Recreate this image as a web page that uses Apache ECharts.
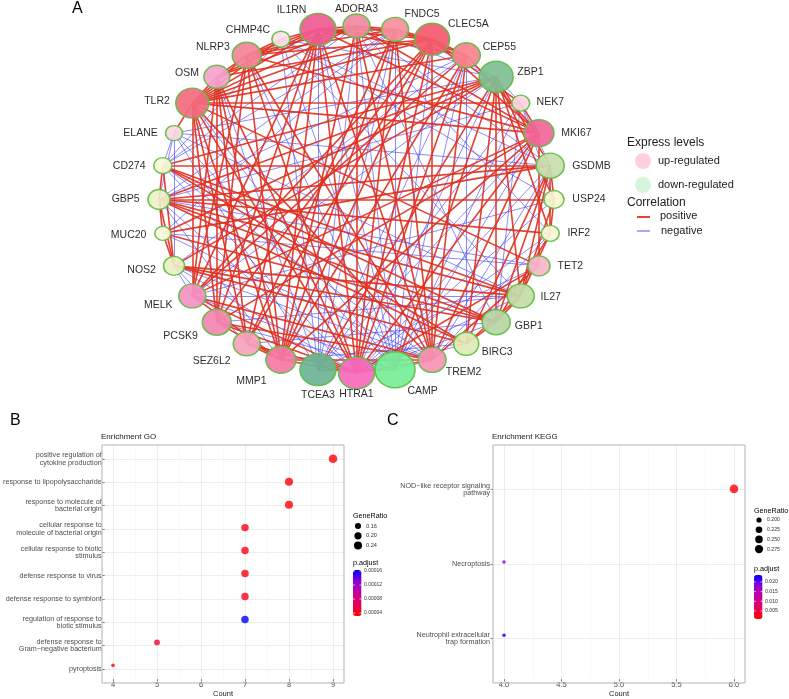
<!DOCTYPE html>
<html><head><meta charset="utf-8">
<script src="https://cdn.jsdelivr.net/npm/echarts@6/dist/echarts.min.js"></script>
<style>html,body{margin:0;padding:0;background:#fff}#c{width:789px;height:699px}</style>
</head><body><div id="c"></div>
<script>
// ---------- Panel A data ----------
const genes = ['ADORA3','FNDC5','CLEC5A','CEP55','ZBP1','NEK7','MKI67','GSDMB','USP24','IRF2','TET2','IL27','GBP1','BIRC3','TREM2','CAMP','HTRA1','TCEA3','MMP1','SEZ6L2','PCSK9','MELK','NOS2','MUC20','GBP5','CD274','ELANE','TLR2','OSM','NLRP3','CHMP4C','IL1RN'];
const geneSizes = [27,27,35,28,34,18,30,28,20,18,22,27,28,25,28,40,36,36,30,27,29,27,21,16,22,18,17,33,26,29,18,36];
const geneColors = ['#f28aa0','#f7909f','#f45b6e','#f8848f','#80bf94','#fcd3de','#f2679a','#c8deaf','#f6f7d2','#f7f8d7','#fab6cb','#c6dcaa','#b8d6a6','#e0e9b6','#f893b5','#78ee98','#f76bbd','#6db597','#f57aa6','#f8a3bf','#f587b2','#f592c5','#e9efc2','#fcfde4','#eef1c6','#f9fbd9','#fcd8e3','#f26d80','#f5a3cd','#f5839a','#fde0e9','#ef5b93'];
const positiveLinks = [
'TLR2-OSM','TLR2-NLRP3','TLR2-IL1RN','TLR2-ADORA3','TLR2-FNDC5','TLR2-CLEC5A','TLR2-CEP55','TLR2-MKI67','TLR2-HTRA1','TLR2-MMP1','TLR2-SEZ6L2','TLR2-PCSK9','TLR2-MELK','TLR2-TREM2','TLR2-ELANE','TLR2-TET2','TLR2-CHMP4C','TLR2-NEK7',
'IL1RN-NLRP3','IL1RN-OSM','IL1RN-ADORA3','IL1RN-FNDC5','IL1RN-CLEC5A','IL1RN-CEP55','IL1RN-MKI67','IL1RN-HTRA1','IL1RN-MMP1','IL1RN-PCSK9','IL1RN-MELK','IL1RN-TREM2','IL1RN-SEZ6L2','IL1RN-CHMP4C',
'CLEC5A-ADORA3','CLEC5A-FNDC5','CLEC5A-CEP55','CLEC5A-NLRP3','CLEC5A-OSM','CLEC5A-MKI67','CLEC5A-HTRA1','CLEC5A-MMP1','CLEC5A-MELK','CLEC5A-PCSK9','CLEC5A-TREM2','CLEC5A-SEZ6L2','CLEC5A-NEK7',
'NLRP3-OSM','NLRP3-ADORA3','NLRP3-FNDC5','NLRP3-HTRA1','NLRP3-MMP1','NLRP3-MELK','NLRP3-PCSK9','NLRP3-TREM2','NLRP3-MKI67','NLRP3-CHMP4C',
'OSM-ADORA3','OSM-HTRA1','OSM-MMP1','OSM-PCSK9','OSM-SEZ6L2','OSM-MELK',
'ADORA3-FNDC5','ADORA3-HTRA1','ADORA3-MMP1','ADORA3-TREM2','ADORA3-MKI67',
'FNDC5-CEP55','FNDC5-HTRA1','FNDC5-MMP1','FNDC5-SEZ6L2','FNDC5-TREM2',
'CEP55-MKI67','CEP55-HTRA1','CEP55-MELK','CEP55-MMP1','CEP55-TREM2',
'MKI67-HTRA1','MKI67-MMP1','MKI67-MELK','MKI67-PCSK9','MKI67-TREM2','MKI67-TET2','MKI67-NEK7',
'HTRA1-MMP1','HTRA1-SEZ6L2','HTRA1-PCSK9','HTRA1-MELK','HTRA1-TREM2','HTRA1-TET2',
'MMP1-SEZ6L2','MMP1-PCSK9','MMP1-MELK','MMP1-TREM2',
'TREM2-TET2','TREM2-PCSK9','TREM2-MELK',
'ZBP1-GSDMB','ZBP1-IL27','ZBP1-GBP1','ZBP1-BIRC3','ZBP1-GBP5','ZBP1-CD274','ZBP1-NOS2','ZBP1-MUC20','ZBP1-USP24','ZBP1-IRF2','ZBP1-CAMP','ZBP1-TCEA3',
'GSDMB-USP24','GSDMB-IL27','GSDMB-GBP1','GSDMB-BIRC3','GSDMB-GBP5','GSDMB-CD274','GSDMB-MUC20','GSDMB-IRF2',
'GBP5-CD274','GBP5-MUC20','GBP5-IL27','GBP5-GBP1','GBP5-BIRC3','GBP5-USP24','GBP5-IRF2','GBP5-NOS2',
'IL27-GBP1','IL27-BIRC3','IL27-IRF2','IL27-USP24','IL27-CD274','IL27-NOS2',
'GBP1-BIRC3','GBP1-CD274','GBP1-NOS2','GBP1-MUC20','GBP1-IRF2',
'BIRC3-CD274','BIRC3-NOS2',
'CAMP-TCEA3','USP24-IRF2','NOS2-MUC20','NOS2-CD274'
];
const negativeLinks = [
'CAMP-ADORA3','CAMP-FNDC5','CAMP-CEP55','CAMP-CLEC5A','CAMP-IL1RN','CAMP-CHMP4C','CAMP-NLRP3','CAMP-TLR2','CAMP-ELANE','CAMP-MKI67','CAMP-NEK7','CAMP-TREM2','CAMP-MELK','CAMP-PCSK9',
'TCEA3-ADORA3','TCEA3-FNDC5','TCEA3-CEP55','TCEA3-CHMP4C','TCEA3-IL1RN','TCEA3-NEK7','TCEA3-MKI67','TCEA3-TET2','TCEA3-ELANE','TCEA3-OSM',
'ELANE-CD274','ELANE-GBP5','ELANE-NOS2','ELANE-GSDMB','ELANE-IL27','ELANE-ZBP1',
'NEK7-ZBP1','NEK7-GSDMB','NEK7-USP24','NEK7-GBP1','NEK7-GBP5',
'ZBP1-ADORA3','ZBP1-FNDC5','ZBP1-CHMP4C','ZBP1-MELK','ZBP1-HTRA1',
'CD274-CHMP4C','CD274-ADORA3','CD274-FNDC5','CD274-TREM2','CD274-HTRA1',
'GBP5-FNDC5','GBP5-CEP55','GBP5-TET2','GBP5-HTRA1','GBP5-MMP1',
'NOS2-MELK','NOS2-CEP55','NOS2-TREM2','NOS2-HTRA1','NOS2-SEZ6L2',
'MUC20-FNDC5','MUC20-TET2','MUC20-TREM2',
'GSDMB-ADORA3','GSDMB-CHMP4C','GSDMB-HTRA1','GSDMB-TREM2',
'IL27-CHMP4C','IL27-MELK','IL27-HTRA1','IL27-PCSK9',
'GBP1-ADORA3','GBP1-HTRA1','GBP1-SEZ6L2',
'BIRC3-CEP55','BIRC3-MMP1','BIRC3-HTRA1',
'USP24-CHMP4C','USP24-HTRA1','USP24-MELK',
'IRF2-ADORA3','IRF2-HTRA1','IRF2-TREM2'
];

// ---------- Panel B data ----------
const goTerms = ['positive regulation of\ncytokine production','response to lipopolysaccharide','response to molecule of\nbacterial origin','cellular response to\nmolecule of bacterial origin','cellular response to biotic\nstimulus','defense response to virus','defense response to symbiont','regulation of response to\nbiotic stimulus','defense response to\nGram\u2212negative bacterium','pyroptosis'];
const goCount = [9,8,8,7,7,7,7,7,5,4];
const goGeneRatio = [0.273,0.242,0.242,0.212,0.212,0.212,0.212,0.212,0.152,0.121];
const goPadj = [0.0000316,0.0000330,0.0000335,0.0000380,0.0000385,0.0000390,0.0000395,0.000163,0.0000520,0.0000350];
const goTicks = [4,5,6,7,8,9];
const goRatioBreaks = [0.16,0.20,0.24];
const goPadjBreaks = [0.00004,0.00008,0.00012,0.00016];

// ---------- Panel C data ----------
const keggTerms = ['NOD\u2212like receptor signaling\npathway','Necroptosis','Neutrophil extracellular\ntrap formation'];
const keggCount = [6,4,4];
const keggGeneRatio = [0.286,0.190,0.190];
const keggPadj = [0.00082,0.0179,0.0236];
const keggTicks = [4.0,4.5,5.0,5.5,6.0];
const keggRatioBreaks = [0.200,0.225,0.250,0.275];
const keggPadjBreaks = [0.005,0.010,0.015,0.020];

const FONT = 'Liberation Sans, Arial, sans-serif';
const padjColors = ['#ff0000','#e6005a','#c5009e','#9200d4','#0000ff'];

// ---------- Network nodes / links ----------
const N = genes.length;
const nodes = genes.map((g, i) => {
  const a = 2 * Math.PI * i / N, s = Math.sin(a), c = Math.cos(a);
  const w = geneSizes[i], h = Math.round(w * 0.9);
  const toRight = s < -0.1 && (c > 0 || s < -0.25);
  const align = s > 0.1 ? 'left' : (toRight ? 'right' : 'center');
  const hx = align === 'center' ? 0 : Math.sign(s) * Math.sqrt(Math.abs(s)) * (w / 2 + 7);
  const bl = s < 0 && c < 0;
  const pv = bl ? 1.5 : 4, gv = bl ? 9 : 4;
  const hy = -Math.sign(c) * Math.pow(Math.abs(c), pv) * (h / 2 + gv);
  return {
    name: g, value: [s, c], symbolSize: [w, h],
    itemStyle: { color: geneColors[i] },
    label: { position: [(50 + 100 * hx / w) + '%', (50 + 100 * hy / h) + '%'], align: align, verticalAlign: 'middle' }
  };
});
const links = negativeLinks.map(p => { const q = p.split('-'); return { source: q[0], target: q[1], lineStyle: { color: '#3b3bf2', width: 0.7, opacity: 0.85 } }; })
  .concat(positiveLinks.map(p => { const q = p.split('-'); return { source: q[0], target: q[1], lineStyle: { color: '#e0301f', width: 1.6, opacity: 0.92 } }; }));

// ---------- size mapping (ggplot area scale) ----------
function sizeFn(ratios) {
  const mn = Math.min(...ratios), mx = Math.max(...ratios);
  return r => 2.6 + 1.0 * (1 + 5 * Math.sqrt(Math.max(0, (r - mn) / (mx - mn))));
}
const goSize = sizeFn(goGeneRatio);
const keggSize = sizeFn(keggGeneRatio);
const goPMin = Math.min(...goPadj), goPMax = Math.max(...goPadj);
const kPMin = Math.min(...keggPadj), kPMax = Math.max(...keggPadj);

// ---------- graphic elements ----------
function txt(x, y, t, size, opts) {
  opts = opts || {};
  return { type: 'text', x: x, y: y, z: 20, silent: true,
    style: { text: t, fontSize: size, fontFamily: FONT, fill: opts.fill || '#000',
      align: opts.align || 'left', verticalAlign: opts.va || 'middle',
      textAlign: opts.align || 'left', textVerticalAlign: opts.va || 'middle' } };
}
const G = [];
G.push(txt(72, 9, 'A', 16));
G.push(txt(10, 421, 'B', 16));
G.push(txt(387, 421, 'C', 16));
G.push(txt(101, 437, 'Enrichment GO', 8, { fill: '#1a1a1a' }));
G.push(txt(492, 437, 'Enrichment KEGG', 8, { fill: '#1a1a1a' }));
// network legend
G.push(txt(627, 143, 'Express levels', 12, { fill: '#222' }));
G.push({ type: 'circle', shape: { cx: 643, cy: 161, r: 8 }, style: { fill: '#fdd0dc' }, z: 20 });
G.push(txt(658, 161, 'up-regulated', 11, { fill: '#222' }));
G.push({ type: 'circle', shape: { cx: 643, cy: 185, r: 8 }, style: { fill: '#d5f5dc' }, z: 20 });
G.push(txt(658, 185, 'down-regulated', 11, { fill: '#222' }));
G.push(txt(627, 203, 'Correlation', 12, { fill: '#222' }));
G.push({ type: 'line', shape: { x1: 637, y1: 217, x2: 650, y2: 217 }, style: { stroke: '#e3301f', lineWidth: 1.8 }, z: 20 });
G.push(txt(660, 216, 'positive', 11, { fill: '#222' }));
G.push({ type: 'line', shape: { x1: 637, y1: 231, x2: 650, y2: 231 }, style: { stroke: '#5555ee', lineWidth: 1 }, z: 20 });
G.push(txt(661, 231, 'negative', 11, { fill: '#222' }));
// panel boxes
G.push({ type: 'rect', shape: { x: 102, y: 445, width: 242, height: 238 }, style: { fill: 'none', stroke: '#b3b3b3', lineWidth: 1 }, z: 15, silent: true });
G.push({ type: 'rect', shape: { x: 493, y: 445, width: 252, height: 238 }, style: { fill: 'none', stroke: '#b3b3b3', lineWidth: 1 }, z: 15, silent: true });
// GO legends
G.push(txt(353, 516, 'GeneRatio', 7.2));
goRatioBreaks.forEach((r, i) => {
  const y = 526 + i * 9.8;
  G.push({ type: 'circle', shape: { cx: 358, cy: y, r: goSize(r) / 2 }, style: { fill: '#000' }, z: 20 });
  G.push(txt(366, y, r.toFixed(2), 5.6, { fill: '#333' }));
});
G.push(txt(353, 563, 'p.adjust', 7.2));
goPadjBreaks.forEach(v => {
  const y = 570 + (goPMax - v) / (goPMax - goPMin) * 46;
  G.push(txt(364, y, v.toFixed(5), 5, { fill: '#333' }));
  G.push({ type: 'line', shape: { x1: 353, y1: y, x2: 355, y2: y }, style: { stroke: '#fff', lineWidth: 0.6 }, z: 20 });
  G.push({ type: 'line', shape: { x1: 359.5, y1: y, x2: 361.5, y2: y }, style: { stroke: '#fff', lineWidth: 0.6 }, z: 20 });
});
// KEGG legends
G.push(txt(754, 511, 'GeneRatio', 7.2));
keggRatioBreaks.forEach((r, i) => {
  const y = 520 + i * 9.7;
  G.push({ type: 'circle', shape: { cx: 759, cy: y, r: keggSize(r) / 2 }, style: { fill: '#000' }, z: 20 });
  G.push(txt(767, y, r.toFixed(3), 5.2, { fill: '#333' }));
});
G.push(txt(754, 569, 'p.adjust', 7.2));
keggPadjBreaks.forEach(v => {
  const y = 575 + (kPMax - v) / (kPMax - kPMin) * 44;
  G.push(txt(765, y, v.toFixed(3), 5.2, { fill: '#333' }));
  G.push({ type: 'line', shape: { x1: 754, y1: y, x2: 756, y2: y }, style: { stroke: '#fff', lineWidth: 0.6 }, z: 20 });
  G.push({ type: 'line', shape: { x1: 760.5, y1: y, x2: 762.5, y2: y }, style: { stroke: '#fff', lineWidth: 0.6 }, z: 20 });
});

const axisLabelStyle = { fontSize: 7.5, color: '#4d4d4d', fontFamily: FONT };
const option = {
  animation: false,
  textStyle: { fontFamily: FONT },
  graphic: G,
  grid: [
    { left: 113, top: 445, width: 220, height: 238 },            // 0 GO data
    { left: 102, top: 459, width: 242, height: 210 },            // 1 GO background rows
    { left: 159, top: 26, width: 395, height: 347 },             // 2 network
    { left: 504, top: 445, width: 230, height: 238 },            // 3 KEGG data
    { left: 493, top: 489.6, width: 252, height: 148.8 }         // 4 KEGG background rows
  ],
  xAxis: [
    { gridIndex: 0, type: 'value', min: goTicks[0], max: goTicks[goTicks.length - 1], interval: 1,
      axisLine: { show: false, onZero: false }, axisTick: { show: true, length: 2.5, lineStyle: { color: '#333', width: 0.6 } },
      axisLabel: Object.assign({ margin: 2 }, axisLabelStyle),
      splitLine: { show: true, lineStyle: { color: '#ebebeb', width: 0.9 } },
      minorTick: { show: false, splitNumber: 2 }, minorSplitLine: { show: true, lineStyle: { color: '#f3f3f3', width: 0.6 } },
      name: 'Count', nameLocation: 'middle', nameGap: 9, nameTextStyle: { fontSize: 7.5, color: '#1a1a1a', fontFamily: FONT } },
    { gridIndex: 1, type: 'value', min: 0, max: 1, show: false },
    { gridIndex: 2, type: 'value', min: -1, max: 1, show: false },
    { gridIndex: 3, type: 'value', min: keggTicks[0], max: keggTicks[keggTicks.length - 1], interval: 0.5,
      axisLine: { show: false, onZero: false }, axisTick: { show: true, length: 2.5, lineStyle: { color: '#333', width: 0.6 } },
      axisLabel: Object.assign({ margin: 2, formatter: v => v.toFixed(1) }, axisLabelStyle),
      splitLine: { show: true, lineStyle: { color: '#ebebeb', width: 0.9 } },
      minorTick: { show: false, splitNumber: 2 }, minorSplitLine: { show: true, lineStyle: { color: '#f3f3f3', width: 0.6 } },
      name: 'Count', nameLocation: 'middle', nameGap: 9, nameTextStyle: { fontSize: 7.5, color: '#1a1a1a', fontFamily: FONT } },
    { gridIndex: 4, type: 'value', min: 0, max: 1, show: false }
  ],
  yAxis: [
    { gridIndex: 0, type: 'value', min: -0.6, max: goTerms.length - 0.4, inverse: true, show: false },
    { gridIndex: 1, type: 'category', data: goTerms, inverse: true, boundaryGap: false,
      axisLine: { show: false }, axisTick: { show: true, length: 2.5, lineStyle: { color: '#333', width: 0.6 } },
      axisLabel: { fontSize: 7.2, lineHeight: 7.6, color: '#4d4d4d', margin: 3, fontFamily: FONT },
      splitLine: { show: true, lineStyle: { color: '#ebebeb', width: 0.9 } } },
    { gridIndex: 2, type: 'value', min: -1, max: 1, show: false },
    { gridIndex: 3, type: 'value', min: -0.6, max: keggTerms.length - 0.4, inverse: true, show: false },
    { gridIndex: 4, type: 'category', data: keggTerms, inverse: true, boundaryGap: false,
      axisLine: { show: false }, axisTick: { show: true, length: 2.5, lineStyle: { color: '#333', width: 0.6 } },
      axisLabel: { fontSize: 7.2, lineHeight: 7.6, color: '#4d4d4d', margin: 3, fontFamily: FONT },
      splitLine: { show: true, lineStyle: { color: '#ebebeb', width: 0.9 } } }
  ],
  visualMap: [
    { type: 'continuous', seriesIndex: 1, dimension: 3, min: goPMin, max: goPMax, inRange: { color: padjColors },
      left: 353, top: 570, itemWidth: 8.5, itemHeight: 46, calculable: false, padding: 0, text: null, hoverLink: false },
    { type: 'continuous', seriesIndex: 2, dimension: 3, min: kPMin, max: kPMax, inRange: { color: padjColors },
      left: 754, top: 575, itemWidth: 8.5, itemHeight: 44, calculable: false, padding: 0, text: null, hoverLink: false }
  ],
  series: [
    { type: 'graph', coordinateSystem: 'cartesian2d', xAxisIndex: 2, yAxisIndex: 2, layout: 'none',
      data: nodes, links: links, symbol: 'circle', silent: true,
      itemStyle: { borderColor: '#5fbd44', borderWidth: 1.5, opacity: 0.93 },
      label: { show: true, color: '#1a1a1a', fontSize: 10.5, fontFamily: FONT, formatter: '{b}' },
      lineStyle: { curveness: 0 }, emphasis: { disabled: true }, z: 3 },
    { type: 'scatter', xAxisIndex: 0, yAxisIndex: 0, silent: true, z: 5,
      data: goTerms.map((t, i) => [goCount[i], i, goGeneRatio[i], goPadj[i]]),
      symbolSize: v => goSize(v[2]) },
    { type: 'scatter', xAxisIndex: 3, yAxisIndex: 3, silent: true, z: 5,
      data: keggTerms.map((t, i) => [keggCount[i], i, keggGeneRatio[i], keggPadj[i]]),
      symbolSize: v => keggSize(v[2]) }
  ]
};
const chart = echarts.init(document.getElementById('c'), null, { renderer: 'canvas' });
chart.setOption(option);
</script>
</body></html>
